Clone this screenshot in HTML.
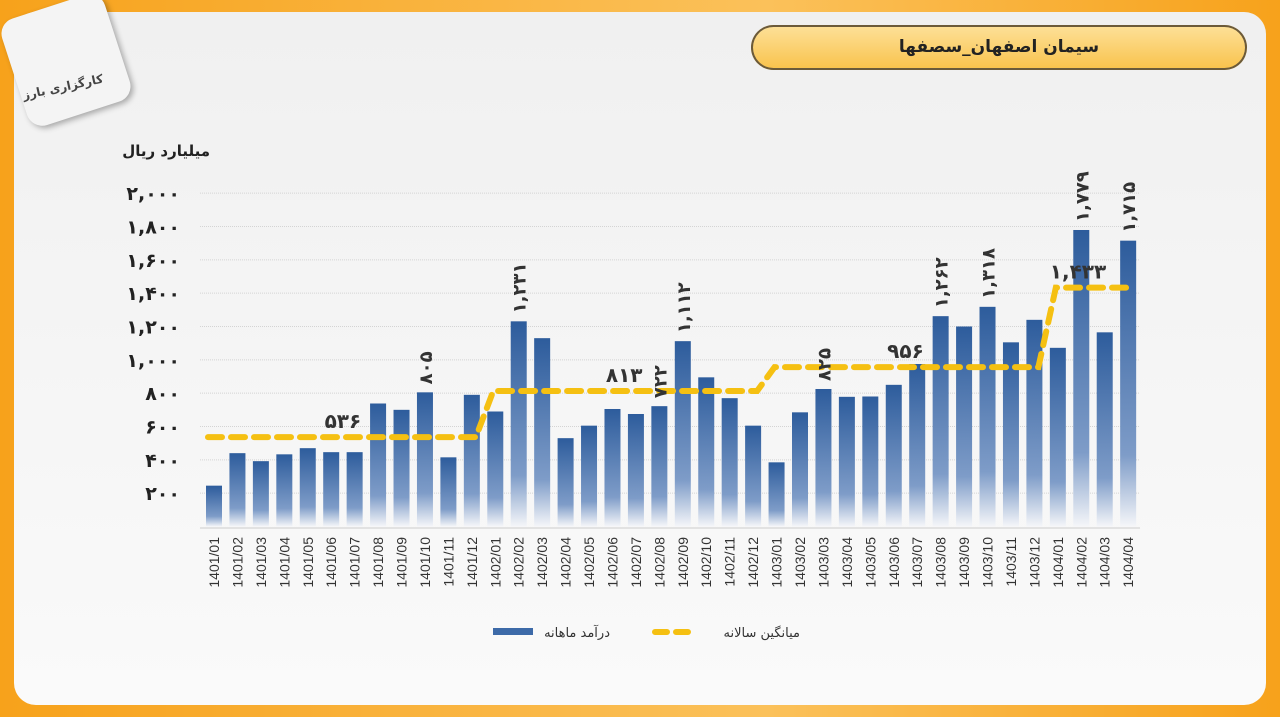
<!DOCTYPE html>
<html><head><meta charset="utf-8"><style>
body{margin:0;width:1280px;height:717px;overflow:hidden;background:linear-gradient(90deg,#f7a21b,#fbc15a 60%,#f7a21b);font-family:"Liberation Sans","DejaVu Sans",sans-serif}
#card{position:absolute;left:14px;top:12px;width:1252px;height:693px;background:linear-gradient(180deg,#f0f0f0,#fafafa);border-radius:22px}
#title{position:absolute;left:751px;top:25px;width:496px;height:45px;border-radius:24px;background:linear-gradient(180deg,#fde19a,#f9c24a);box-shadow:inset 0 0 0 2px #6b5a3a;text-align:center;line-height:45px;font-weight:bold;font-size:17px;color:#222;font-family:"DejaVu Sans",sans-serif}
#logo{position:absolute;left:12px;top:4px;width:108px;height:112px;background:#f4f4f4;border-radius:16px;transform:rotate(-18deg);box-shadow:2px 3px 6px rgba(0,0,0,.3)}
.num{direction:ltr;unicode-bidi:bidi-override}
</style></head><body>
<div id="card"></div>
<div id="logo"></div>
<div style="position:absolute;left:22px;top:80px;font:bold 12px 'DejaVu Sans',sans-serif;color:#444;transform:rotate(-12deg)">کارگزاری بارز</div>
<div id="title">سیمان اصفهان_سصفها</div>
<svg id="chart" width="1280" height="717" style="position:absolute;left:0;top:0">
<defs><linearGradient id="bg" x1="0" y1="0" x2="0" y2="1"><stop offset="0" stop-color="#2d5c9c"/><stop offset="0.75" stop-color="#7e9cc8"/><stop offset="1" stop-color="#f5f6f9"/></linearGradient></defs>
<g id="grid"></g><g id="bars"></g><g id="avg"></g><g id="labels"></g>
</svg>
<script>
const categories=["1401/01","1401/02","1401/03","1401/04","1401/05","1401/06","1401/07","1401/08","1401/09","1401/10","1401/11","1401/12","1402/01","1402/02","1402/03","1402/04","1402/05","1402/06","1402/07","1402/08","1402/09","1402/10","1402/11","1402/12","1403/01","1403/02","1403/03","1403/04","1403/05","1403/06","1403/07","1403/08","1403/09","1403/10","1403/11","1403/12","1404/01","1404/02","1404/03","1404/04"];
const revenue=[245,440,392,433,470,446,446,738,700,805,415,790,690,1231,1130,530,605,705,675,722,1112,895,770,605,385,685,825,778,780,850,975,1262,1200,1318,1105,1240,1072,1779,1165,1715];
const yearAvg=[536,813,956,1433];
const yearStarts=[0,12,24,36];
const yearEnds=[11,23,35,39];
const labeledBars=[9,13,19,20,26,31,33,37,39];
const yTicks=[200,400,600,800,1000,1200,1400,1600,1800,2000];
const fa=s=>String(s).replace(/\d/g,d=>"۰۱۲۳۴۵۶۷۸۹"[d]);
const fmt=v=>fa(v>=1000?Math.floor(v/1000)+","+String(v%1000).padStart(3,"0"):v);
const y=v=>526.5-v*0.16667;
const x=i=>214+i*23.44;
const NS="http://www.w3.org/2000/svg";
function mk(p,t,a){const e=document.createElementNS(NS,t);for(const k in a)e.setAttribute(k,a[k]);p.appendChild(e);return e;}
const G=document.getElementById('grid'),B=document.getElementById('bars'),A=document.getElementById('avg'),L=document.getElementById('labels');
yTicks.forEach(t=>{
 const l=mk(G,'line',{x1:200,x2:1140,y1:y(t),y2:y(t),stroke:'#d4d4d4','stroke-dasharray':'1 1'});
 
 
 const tx=mk(G,'text',{class:'num',x:180,y:y(t)+7,'text-anchor':'end','font-size':19,'font-weight':'bold',fill:'#222','font-family':'DejaVu Sans'});tx.textContent=fmt(t);
 
 
});
const ax=mk(G,'line',{x1:200,x2:1140,y1:528,y2:528,stroke:'#ccc'});


const yt=mk(G,'text',{x:210,y:156,'text-anchor':'end','font-size':15,'font-weight':'bold',fill:'#222','font-family':'DejaVu Sans'});yt.textContent='میلیارد ریال';


revenue.forEach((v,i)=>{
 const r=mk(B,'rect',{x:x(i)-8,y:y(v),width:16,height:526.5-y(v),fill:'url(#bg)'});
 
 
 const t=mk(L,'text',{transform:`translate(${x(i)+5},${537}) rotate(-90)`,'text-anchor':'end','font-size':14,fill:'#333'});t.textContent=categories[i];
 
 
});
labeledBars.forEach(i=>{
 const t=mk(L,'text',{class:'num',transform:`translate(${x(i)+7},${y(revenue[i])-8}) rotate(-90)`,'text-anchor':'start','font-size':18,'font-weight':'bold',fill:'#333','font-family':'DejaVu Sans'});t.textContent=fmt(revenue[i]);
 
 
});
let d='';
yearAvg.forEach((v,k)=>{
 const x0=k==0?x(0)-6:x(yearStarts[k])-16,x1=x(yearEnds[k])+4;
 if(k==0)d+=`M${x0},${y(v)}`;else d+=`L${x0+14},${y(v)}`;
 d+=`L${x1},${y(v)}`;
 const t=mk(L,'text',{class:'num',x:(x(yearStarts[k])+x(yearEnds[k]))/2+(k==3?-15:0),y:y(v)-9,'text-anchor':'middle','font-size':20,'font-weight':'bold',fill:'#333','font-family':'DejaVu Sans'});t.textContent=fmt(v);
 
 
});
const p=mk(A,'path',{d:d,fill:'none',stroke:'#f5c012','stroke-width':6,'stroke-dasharray':'14 9','stroke-linecap':'round'});


const lg1=mk(L,'rect',{x:493,y:628,width:40,height:7,fill:'#3d6aa8'});


const lt1=mk(L,'text',{x:610,y:637,'text-anchor':'end','font-size':13,fill:'#333','font-family':'DejaVu Sans'});lt1.textContent='درآمد ماهانه';


const lg2=mk(L,'path',{d:'M655,632L690,632',stroke:'#f5c012','stroke-width':6,'stroke-dasharray':'12 9','stroke-linecap':'round'});


const lt2=mk(L,'text',{x:800,y:637,'text-anchor':'end','font-size':13,fill:'#333','font-family':'DejaVu Sans'});lt2.textContent='میانگین سالانه';


</script>
</body></html>
